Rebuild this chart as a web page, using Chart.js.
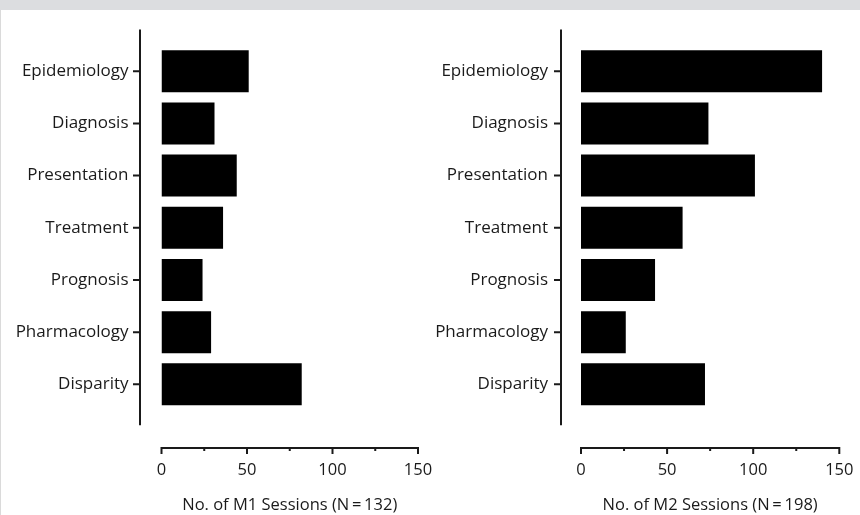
<!DOCTYPE html>
<html>
<head>
<meta charset="utf-8">
<script src="https://cdn.jsdelivr.net/npm/chart.js@4"></script>
<style>
  html, body { margin: 0; padding: 0; background: #fff; }
  body { width: 860px; height: 515px; position: relative; overflow: hidden; }
  .band { position: absolute; left: 0; top: 0; width: 860px; height: 10px; background: #dcdde0; }
  .edge { position: absolute; left: 0; top: 10px; width: 1px; height: 505px; background: #dadada; }
  .panel { position: absolute; top: 0; height: 515px; }
</style>
</head>
<body>
<div class="band"></div>
<div class="edge"></div>
<div class="panel" style="left:0;width:445px"><canvas id="m1Chart"></canvas></div>
<div class="panel" style="left:430px;width:430px"><canvas id="m2Chart"></canvas></div>
<script>
const categories = ['Epidemiology', 'Diagnosis', 'Presentation', 'Treatment', 'Prognosis', 'Pharmacology', 'Disparity'];
const m1Sessions = [51, 31, 44, 36, 24, 29, 82];
const m2Sessions = [140, 74, 101, 59, 43, 26, 72];
const xTicks = [0, 25, 50, 75, 100, 125, 150];
const m1Title = 'No. of M1 Sessions (N\u2009=\u2009132)';
const m2Title = 'No. of M2 Sessions (N\u2009=\u2009198)';

const ink = '#1a1a1a';
const labelFont = { family: "'Open Sans', sans-serif", size: 17 };
const font = { family: "'Open Sans', sans-serif", size: 16.5 };

// axis lines + tick marks by hand, the y axis sits apart from the bars
function axesPlugin(gap) {
  return {
    id: 'axes',
    afterDraw(chart) {
      const { ctx, chartArea, scales: { x, y } } = chart;
      const ax = chartArea.left - gap;
      const by = chartArea.bottom;
      ctx.save();
      ctx.strokeStyle = ink;
      ctx.lineWidth = 2;
      ctx.beginPath();
      ctx.moveTo(ax, chartArea.top);
      ctx.lineTo(ax, y.getPixelForValue(categories.length - 1) + 41);
      categories.forEach((c, i) => {
        const py = y.getPixelForValue(i);
        ctx.moveTo(ax - 7, py);
        ctx.lineTo(ax, py);
      });
      ctx.moveTo(x.getPixelForValue(0) - 1, by);
      ctx.lineTo(x.getPixelForValue(150) + 1, by);
      xTicks.forEach(v => {
        const px = x.getPixelForValue(v);
        ctx.moveTo(px, by);
        ctx.lineTo(px, by + (v % 50 === 0 ? 6 : 3));
      });
      ctx.stroke();
      ctx.restore();
    }
  };
}

function makeChart(id, values, title, yWidth, rightPad, gap) {
  return new Chart(document.getElementById(id), {
    type: 'bar',
    data: {
      datasets: [{
        data: values.map((v, i) => ({ x: v, y: i })),
        backgroundColor: '#000',
        barPercentage: 0.805,
        categoryPercentage: 1
      }]
    },
    options: {
      indexAxis: 'y',
      responsive: true,
      maintainAspectRatio: false,
      animation: false,
      layout: { padding: { top: 29.5, left: 0, right: 0, bottom: 0 } },
      plugins: { legend: { display: false }, tooltip: { enabled: false } },
      scales: {
        x: {
          type: 'linear', min: 0, max: 150,
          afterBuildTicks: s => { s.ticks = xTicks.map(v => ({ value: v })); },
          ticks: { callback: v => (v % 50 === 0 ? v : ''), color: ink, font, padding: 12, maxRotation: 0, autoSkip: false },
          grid: { display: false, drawTicks: false },
          border: { display: false },
          title: { display: true, text: title, color: ink, font, padding: 0 },
          afterFit: s => { s.height = 67; s.paddingRight = rightPad; s.paddingLeft = 0; }
        },
        y: {
          type: 'linear', reverse: true, offset: false, min: -0.8, max: 7.22,
          afterBuildTicks: s => { s.ticks = categories.map((c, i) => ({ value: i })); },
          ticks: { callback: v => categories[v], color: ink, font: labelFont, padding: 33, autoSkip: false },
          grid: { display: false, drawTicks: false },
          border: { display: false },
          afterFit: s => { s.width = yWidth; s.paddingTop = 0; s.paddingBottom = 0; }
        }
      }
    },
    plugins: [axesPlugin(gap)]
  });
}

makeChart('m1Chart', m1Sessions, m1Title, 161.5, 27, 21.5);
makeChart('m2Chart', m2Sessions, m2Title, 151, 20.7, 20);
</script>
</body>
</html>
